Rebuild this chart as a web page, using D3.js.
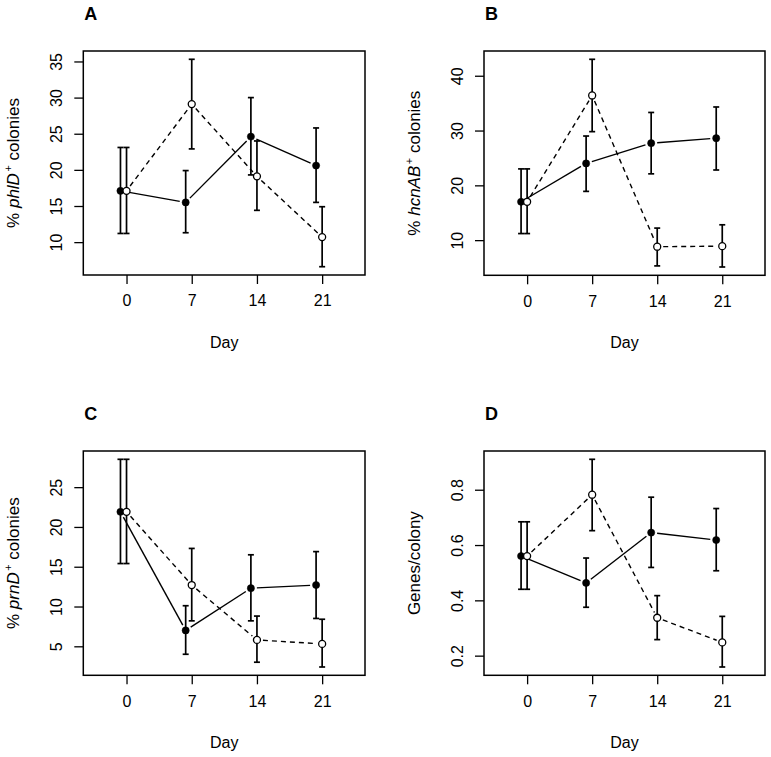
<!DOCTYPE html>
<html><head><meta charset="utf-8">
<script src="https://cdn.jsdelivr.net/npm/d3@7"></script>
<style>body{margin:0;background:#fff}svg{display:block}</style></head>
<body><svg id="c" width="771" height="757"></svg>
<script>
const days = [0, 7, 14, 21];
const dayTicks = ["0", "7", "14", "21"];

const A_filled = [17.1, 15.5, 24.6, 20.6], A_filled_lo = [11.2, 11.3, 19.3, 15.5], A_filled_hi = [23.1, 19.9, 30.0, 25.8];
const A_open = [17.1, 29.1, 19.1, 10.7], A_open_lo = [11.2, 22.9, 14.4, 6.6], A_open_hi = [23.1, 35.3, 24.0, 14.9];
const A_yticks = [10, 15, 20, 25, 30, 35];

const B_filled = [17.0, 24.0, 27.7, 28.6], B_filled_lo = [11.2, 18.9, 22.1, 22.8], B_filled_hi = [23.0, 29.0, 33.3, 34.3];
const B_open = [17.0, 36.4, 8.8, 8.9], B_open_lo = [11.2, 29.8, 5.3, 5.1], B_open_hi = [23.0, 43.0, 12.2, 12.8];
const B_yticks = [10, 20, 30, 40];

const C_filled = [21.9, 7.0, 12.3, 12.7], C_filled_lo = [15.4, 4.0, 8.2, 8.5], C_filled_hi = [28.5, 10.1, 16.5, 16.9];
const C_open = [21.9, 12.7, 5.8, 5.3], C_open_lo = [15.4, 8.2, 3.0, 2.4], C_open_hi = [28.5, 17.3, 8.8, 8.4];
const C_yticks = [5, 10, 15, 20, 25];

const D_filled = [0.56, 0.463, 0.645, 0.618], D_filled_lo = [0.44, 0.375, 0.519, 0.507], D_filled_hi = [0.684, 0.553, 0.773, 0.732];
const D_open = [0.56, 0.782, 0.337, 0.248], D_open_lo = [0.44, 0.652, 0.258, 0.159], D_open_hi = [0.684, 0.910, 0.417, 0.342];
const D_yticks = [0.2, 0.4, 0.6, 0.8];

const dodge = 0.65; // filled series shifted left
const xDomain = [-4.64, 25.6];

const panels = [
  {letter: "A", box: [83.3, 51, 365, 275], label: [["% ", false], ["phlD", true], ["+", false, true], [" colonies", false]],
   f: [A_filled, A_filled_lo, A_filled_hi], o: [A_open, A_open_lo, A_open_hi], yt: A_yticks, fmt: d3.format("d")},
  {letter: "B", box: [484, 51, 765, 275.3], label: [["% ", false], ["hcnAB", true], ["+", false, true], [" colonies", false]],
   f: [B_filled, B_filled_lo, B_filled_hi], o: [B_open, B_open_lo, B_open_hi], yt: B_yticks, fmt: d3.format("d")},
  {letter: "C", box: [83.3, 451, 365, 675.3], label: [["% ", false], ["prnD", true], ["+", false, true], [" colonies", false]],
   f: [C_filled, C_filled_lo, C_filled_hi], o: [C_open, C_open_lo, C_open_hi], yt: C_yticks, fmt: d3.format("d")},
  {letter: "D", box: [484, 451, 765, 675.3], label: [["Genes/colony", false]],
   f: [D_filled, D_filled_lo, D_filled_hi], o: [D_open, D_open_lo, D_open_hi], yt: D_yticks, fmt: d3.format(".1f")}
];

const FONT = "'Liberation Sans', Arial, Helvetica, sans-serif";
const FS = 16;
const svg = d3.select("#c");
svg.append("rect").attr("width", 771).attr("height", 757).attr("fill", "#fff");

function gapSegments(pts, g) {
  const segs = [];
  for (let i = 0; i < pts.length - 1; i++) {
    const [x1, y1] = pts[i], [x2, y2] = pts[i + 1];
    const dx = x2 - x1, dy = y2 - y1, L = Math.hypot(dx, dy);
    if (L <= 2 * g) continue;
    const ux = dx / L, uy = dy / L;
    segs.push([x1 + ux * g, y1 + uy * g, x2 - ux * g, y2 - uy * g]);
  }
  return segs;
}

panels.forEach(p => {
  const [L, T, R, B] = p.box;
  const g = svg.append("g");
  const x = d3.scaleLinear().domain(xDomain).range([L, R]);
  const all = p.f[1].concat(p.f[2], p.o[1], p.o[2]);
  const ext = d3.extent(all), pad = (ext[1] - ext[0]) * 0.04;
  const y = d3.scaleLinear().domain([ext[0] - pad, ext[1] + pad]).range([B, T]);

  // x axis
  const xa = g.append("g").attr("transform", `translate(0,${B})`)
    .call(d3.axisBottom(x).tickValues(days).tickFormat((d, i) => dayTicks[i]).tickSize(9).tickPadding(11).tickSizeOuter(0));
  xa.select(".domain").remove();
  xa.selectAll("line").attr("stroke", "#000").attr("stroke-width", 1.3);
  xa.selectAll("text").attr("font-family", FONT).attr("font-size", FS).attr("fill", "#000");

  // y axis
  const ya = g.append("g").attr("transform", `translate(${L},0)`)
    .call(d3.axisLeft(y).tickValues(p.yt).tickFormat(p.fmt).tickSize(9).tickSizeOuter(0));
  ya.select(".domain").remove();
  ya.selectAll("line").attr("stroke", "#000").attr("stroke-width", 1.3);
  ya.selectAll("text").attr("font-family", FONT).attr("font-size", FS).attr("fill", "#000")
    .attr("x", null).attr("dy", null)
    .attr("text-anchor", "middle")
    .attr("transform", "translate(-27,0) rotate(-90)")
    .attr("y", 0).attr("dy", "0.36em");

  // box
  g.append("rect").attr("x", L).attr("y", T).attr("width", R - L).attr("height", B - T)
    .attr("fill", "none").attr("stroke", "#000").attr("stroke-width", 1.5);

  // letter
  g.append("text").attr("x", L + 1).attr("y", T - 31).text(p.letter)
    .attr("font-family", FONT).attr("font-weight", "bold").attr("font-size", 18);

  // x label
  g.append("text").attr("x", (L + R) / 2).attr("y", B + 73).attr("text-anchor", "middle")
    .attr("font-family", FONT).attr("font-size", FS).text("Day");

  // y label
  const yl = g.append("text").attr("transform", `translate(${L - 64},${(T + B) / 2}) rotate(-90)`)
    .attr("text-anchor", "middle").attr("font-family", FONT).attr("font-size", 17);
  p.label.forEach(([t, it, sup], i) => {
    const ts = yl.append("tspan").text(t);
    if (it) ts.attr("font-style", "italic");
    if (sup) ts.attr("font-size", 11).attr("dy", "-0.65em").attr("dx", "1.5");
    else if (i > 0 && p.label[i - 1][2]) ts.attr("dy", "0.42em");
  });

  const series = [
    {v: p.f, dx: -dodge, filled: true},
    {v: p.o, dx: 0, filled: false}
  ];

  // lines
  series.forEach(s => {
    const pts = days.map((d, i) => [x(d + s.dx), y(s.v[0][i])]);
    g.append("g").selectAll("line").data(gapSegments(pts, 6)).join("line")
      .attr("x1", d => d[0]).attr("y1", d => d[1]).attr("x2", d => d[2]).attr("y2", d => d[3])
      .attr("stroke", "#000").attr("stroke-width", 1.4)
      .attr("stroke-dasharray", s.filled ? null : "5,4");
  });

  // error bars
  series.forEach(s => {
    const eb = g.append("g").attr("stroke", "#000").attr("stroke-width", 1.7);
    days.forEach((d, i) => {
      const cx = x(d + s.dx), lo = y(s.v[1][i]), hi = y(s.v[2][i]);
      eb.append("line").attr("x1", cx).attr("x2", cx).attr("y1", lo).attr("y2", hi);
      eb.append("line").attr("x1", cx - 3).attr("x2", cx + 3).attr("y1", lo).attr("y2", lo);
      eb.append("line").attr("x1", cx - 3).attr("x2", cx + 3).attr("y1", hi).attr("y2", hi);
    });
  });

  // points
  series.forEach(s => {
    g.append("g").selectAll("circle").data(days).join("circle")
      .attr("cx", (d) => x(d + s.dx)).attr("cy", (d, i) => y(s.v[0][i]))
      .attr("r", s.filled ? 3.6 : 3.5)
      .attr("fill", s.filled ? "#000" : "#fff")
      .attr("stroke", "#000").attr("stroke-width", s.filled ? 0.5 : 1.3);
  });
});
</script></body></html>
